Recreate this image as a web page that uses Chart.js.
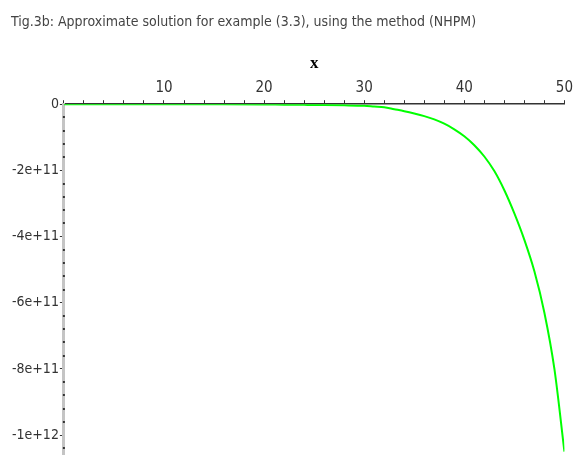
<!DOCTYPE html>
<html>
<head>
<meta charset="utf-8">
<script src="https://cdn.jsdelivr.net/npm/chart.js@4.4.1/dist/chart.umd.min.js"></script>
<style>
  html, body { margin: 0; padding: 0; background: #fff; }
  #wrap { width: 576px; height: 455px; }
</style>
</head>
<body>
<div id="wrap"><canvas id="chart" width="576" height="455"></canvas></div>
<script>
const titleText = "Tig.3b: Approximate solution for example (3.3), using the method (NHPM)"
const xTitle = "x"

// curve
const xValues = [0, 5, 10, 15, 20, 22, 24, 26, 28, 30, 31, 32, 33, 34, 35, 36, 37, 38, 39, 40,
  41, 42, 43, 44, 45, 46, 47, 48, 49, 50]
const yValues = [0, 0, 0, -2e8, -8e8, -1.5e9, -2e9, -2.6e9, -3.5e9, -5e9, -7e9, -9e9, -1.5e10, -2.1e10,
  -2.8e10, -3.6e10, -4.6e10, -5.9e10, -7.6e10, -9.7e10, -1.24e11, -1.58e11, -2.02e11, -2.6e11,
  -3.3e11, -4.1e11, -5.05e11, -6.3e11, -8.0e11, -1.05e12]

const xMajor = [10, 20, 30, 40, 50]
const yMajor = [0, -2e11, -4e11, -6e11, -8e11, -1e12]
const yTickValues = [0, -4e10, -8e10, -1.2e11, -1.6e11, -2e11, -2.4e11, -2.8e11, -3.2e11, -3.6e11,
  -4e11, -4.4e11, -4.8e11, -5.2e11, -5.6e11, -6e11, -6.4e11, -6.8e11, -7.2e11, -7.6e11,
  -8e11, -8.4e11, -8.8e11, -9.2e11, -9.6e11, -1e12, -1.04e12]

const narrow = "'DejaVu Sans Condensed', 'Liberation Sans Narrow', sans-serif"
const lineGreen = "#00ff00"

function isYMajor(v) {
  return yMajor.some(m => Math.abs(m - v) < 1e9)
}

// small dots for the minor y ticks, sitting on the axis line
const minorDots = {
  id: "minorDots",
  afterDraw(chart) {
    const y = chart.scales.y
    const ctx = chart.ctx
    ctx.save()
    ctx.fillStyle = "#333"
    y.ticks.forEach(t => {
      if (isYMajor(t.value)) return
      const py = y.getPixelForValue(t.value)
      ctx.fillRect(y.right - 1, Math.round(py) - 1, 2, 2)
    })
    ctx.restore()
  }
}

new Chart(document.getElementById("chart"), {
  type: "line",
  data: {
    datasets: [{
      data: xValues.map((x, i) => ({ x: x, y: yValues[i] })),
      borderColor: lineGreen,
      borderWidth: 2,
      pointRadius: 0,
      fill: false,
      cubicInterpolationMode: "monotone"
    }]
  },
  options: {
    responsive: false,
    animation: false,
    layout: { padding: { left: 11, right: 8, top: 0, bottom: 0 } },
    plugins: {
      legend: { display: false },
      tooltip: { enabled: false },
      title: {
        display: true,
        text: titleText,
        align: "start",
        color: "#444",
        font: { family: narrow, size: 14, weight: "normal" },
        padding: { top: 14, bottom: 23 }
      }
    },
    scales: {
      x: {
        type: "linear",
        position: "top",
        min: 0,
        max: 50,
        title: {
          display: true,
          text: xTitle,
          color: "#000",
          font: { family: "'Liberation Serif', 'Times New Roman', serif", size: 17, weight: "bold" },
          padding: { top: 0, bottom: 2 }
        },
        ticks: {
          stepSize: 2,
          autoSkip: false,
          maxRotation: 0,
          color: "#333",
          padding: 3,
          font: { family: narrow, size: 15 },
          callback: v => xMajor.includes(v) ? String(v) : ""
        },
        grid: {
          drawOnChartArea: false,
          drawTicks: true,
          tickLength: 4,
          tickColor: "#333"
        },
        border: { color: "#333", width: 1.5 }
      },
      y: {
        type: "linear",
        min: -1.06e12,
        max: 0,
        afterBuildTicks: axis => {
          axis.ticks = yTickValues.map(v => ({ value: v }))
        },
        // the axis runs to the bottom edge, so no room is kept for the last label
        afterFit: axis => {
          axis.paddingBottom = 0
        },
        ticks: {
          autoSkip: false,
          color: "#333",
          padding: 1,
          font: { family: narrow, size: 14 },
          callback: v => {
            if (!isYMajor(v)) return ""
            const r = Math.round(v / 1e10) * 1e10
            return r === 0 ? "0" : r.toExponential()
          }
        },
        grid: {
          drawOnChartArea: false,
          drawTicks: true,
          tickLength: 4,
          tickColor: ctx => isYMajor(ctx.tick.value) ? "#333" : "rgba(0,0,0,0)"
        },
        border: { color: "#c4c4c4", width: 3 }
      }
    }
  },
  plugins: [minorDots]
})
</script>
</body>
</html>
